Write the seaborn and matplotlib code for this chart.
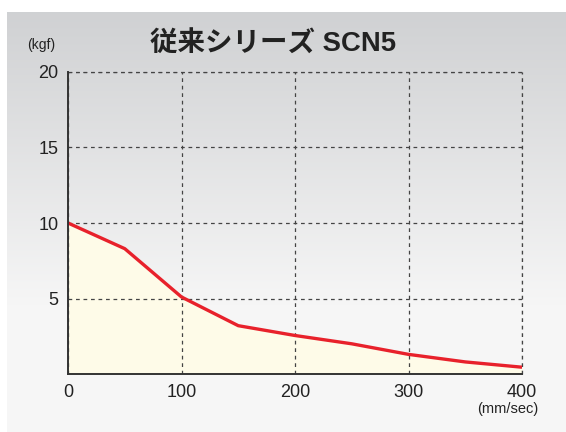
import numpy as np
import pandas as pd
import matplotlib
matplotlib.use("Agg")
import matplotlib.pyplot as plt
import seaborn as sns

# Speed (mm/sec) vs. payload (kgf)
speed = [0, 50, 100, 150, 200, 250, 300, 350, 400]
force = [10.0, 8.3, 5.1, 3.2, 2.55, 2.0, 1.3, 0.8, 0.45]
x_ticks = [0, 100, 200, 300, 400]
y_ticks = [5, 10, 15, 20]
title = "従来シリーズ SCN5"
y_unit = "(kgf)"
x_unit = "(mm/sec)"

sns.set_theme(style="white")
plt.rcParams["font.family"] = ["Liberation Sans", "Noto Sans CJK JP", "DejaVu Sans"]

W, H = 566, 432
fig = plt.figure(figsize=(W / 100, H / 100), dpi=100)
fig.patch.set_facecolor("white")

# Grey gradient panel behind the chart
bg = fig.add_axes([7 / W, 0, (W - 7) / W, (H - 12) / H], zorder=0)
rows = 300
t = np.clip(np.linspace(0, 1, rows) / 0.7, 0, 1)
top = np.array([0.815, 0.82, 0.828])
bot = np.array([0.965, 0.965, 0.965])
grad = top[None, :] * (1 - t[:, None]) + bot[None, :] * t[:, None]
bg.imshow(grad[:, None, :], aspect="auto", extent=[0, 1, 0, 1], origin="upper")
bg.set_axis_off()

ax = fig.add_axes([68 / W, 1 - 374 / H, (522 - 68) / W, (374 - 72) / H], zorder=1)
ax.set_facecolor("none")

df = pd.DataFrame({"speed": speed, "force": force})
ax.fill_between(df["speed"], df["force"], 0, color="#fefbe8", zorder=1, linewidth=0)
sns.lineplot(data=df, x="speed", y="force", ax=ax, color="#e8212b",
             linewidth=2.4, zorder=3, solid_capstyle="butt")

ax.set_xlim(0, 400)
ax.set_ylim(0, 20)
ax.set_xticks(x_ticks)
ax.set_yticks(y_ticks)
ax.set_xticklabels([str(v) for v in x_ticks], fontsize=13, color="#222222")
ax.set_yticklabels([str(v) for v in y_ticks], fontsize=13, color="#222222")
ax.tick_params(axis="both", length=0, pad=7)
ax.set_xlabel("")
ax.set_ylabel("")

ax.grid(True, color="#444444", linestyle=(0, (3, 3)), linewidth=0.9, zorder=2)
ax.set_axisbelow(False)
for s in ("top", "right"):
    ax.spines[s].set_visible(False)
# dashed borders on top and right
ax.axhline(20, color="#444444", linestyle=(0, (3, 3)), linewidth=0.9, zorder=2, clip_on=False)
ax.axvline(400, color="#444444", linestyle=(0, (3, 3)), linewidth=0.9, zorder=2, clip_on=False)
for s in ("left", "bottom"):
    ax.spines[s].set_color("#333333")
    ax.spines[s].set_linewidth(1.4)
    ax.spines[s].set_zorder(4)

fig.text(273 / W, 1 - 45 / H, title, ha="center", va="center", fontsize=19.8,
         fontweight="bold", color="#222222",
         family=["Liberation Sans", "Noto Sans CJK JP", "DejaVu Sans"])
fig.text(41 / W, 1 - 45 / H, y_unit, ha="center", va="center", fontsize=10,
         color="#222222")
fig.text(538 / W, 1 - 409 / H, x_unit, ha="right", va="center", fontsize=10.5,
         color="#222222")

fig.savefig("out.png", dpi=100, facecolor=fig.get_facecolor())
